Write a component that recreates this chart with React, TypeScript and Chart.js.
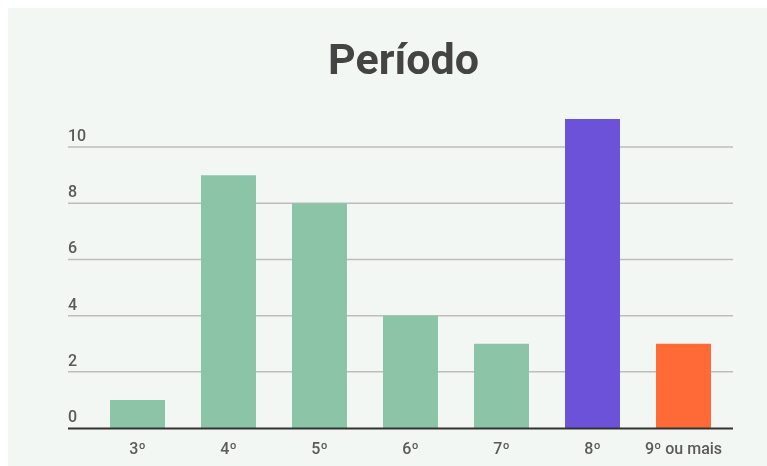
import React, { useEffect, useRef } from "react";
import { Chart, registerables } from "chart.js";

Chart.register(...registerables);

const titleText = "Período";
const categories = ["3º", "4º", "5º", "6º", "7º", "8º", "9º ou mais"];
const values = [1, 9, 8, 4, 3, 11, 3];
const barColors = ["#8cc4a7", "#8cc4a7", "#8cc4a7", "#8cc4a7", "#8cc4a7", "#6b52d9", "#ff6a37"];
const yTicks = [0, 2, 4, 6, 8, 10];

const BG = "#f3f7f4";
const FONT = "Roboto, 'Noto Sans', Arial, sans-serif";

const decorPlugin = {
  id: "decor",
  beforeDraw(chart: any) {
    const ctx = chart.ctx;
    ctx.save();
    ctx.fillStyle = BG;
    ctx.fillRect(0, 0, chart.width, chart.height);
    ctx.restore();
  },
  beforeDatasetsDraw(chart: any) {
    const ctx = chart.ctx;
    const y = chart.scales.y;
    const area = chart.chartArea;
    const left = area.left - 24;
    const right = area.right + 4;
    ctx.save();
    ctx.strokeStyle = "#bdbdbd";
    ctx.lineWidth = 1.5;
    ctx.font = `500 16px ${FONT}`;
    ctx.fillStyle = "#5a5a5a";
    ctx.textAlign = "left";
    ctx.textBaseline = "alphabetic";
    yTicks.forEach((v) => {
      const py = y.getPixelForValue(v);
      if (v !== 0) {
        ctx.beginPath();
        ctx.moveTo(left, py);
        ctx.lineTo(right, py);
        ctx.stroke();
      }
      ctx.fillText(String(v), left, py - 6);
    });
    ctx.font = `bold 43px ${FONT}`;
    ctx.fillStyle = "#444444";
    ctx.textAlign = "center";
    ctx.fillText(titleText, 395.5, 66);
    ctx.restore();
  },
  afterDatasetsDraw(chart: any) {
    const ctx = chart.ctx;
    const y = chart.scales.y;
    const area = chart.chartArea;
    const py = y.getPixelForValue(0);
    ctx.save();
    ctx.strokeStyle = "#333333";
    ctx.lineWidth = 2;
    ctx.beginPath();
    ctx.moveTo(area.left - 24, py + 0.5);
    ctx.lineTo(area.right + 4, py + 0.5);
    ctx.stroke();
    ctx.restore();
  },
};

const W = 775;
const H = 466;

export default function App() {
  const ref = useRef<HTMLCanvasElement | null>(null);
  useEffect(() => {
    if (!ref.current) return;
    const chart = new Chart(ref.current, {
      type: "bar",
      data: {
        labels: categories,
        datasets: [
          {
            data: values,
            backgroundColor: barColors,
            borderWidth: 0,
            categoryPercentage: 1,
            barPercentage: 0.604,
          },
        ],
      },
      options: {
        animation: false,
        responsive: false,
        devicePixelRatio: 1,
        layout: { padding: { left: 84, right: W - 721, top: 111, bottom: H - 458 + 1 } },
        plugins: {
          legend: { display: false },
          title: { display: false },
          tooltip: { enabled: false },
        },
        scales: {
          x: {
            grid: { display: false, drawTicks: false },
            border: { display: false },
            afterFit(scale: any) {
              scale.height = 37;
            },
            ticks: {
              padding: 12,
              color: "#5a5a5a",
              font: { family: FONT, size: 16, weight: "500" },
              maxRotation: 0,
              autoSkip: false,
            },
          },
          y: {
            display: false,
            min: 0,
            max: 11,
          },
        },
      },
      plugins: [decorPlugin],
    });
    return () => chart.destroy();
  }, []);
  return (
    <div style={{ position: "fixed", left: 8, top: 8, width: W, height: H }}>
      <canvas ref={ref} width={W} height={H} style={{ display: "block" }} />
    </div>
  );
}
